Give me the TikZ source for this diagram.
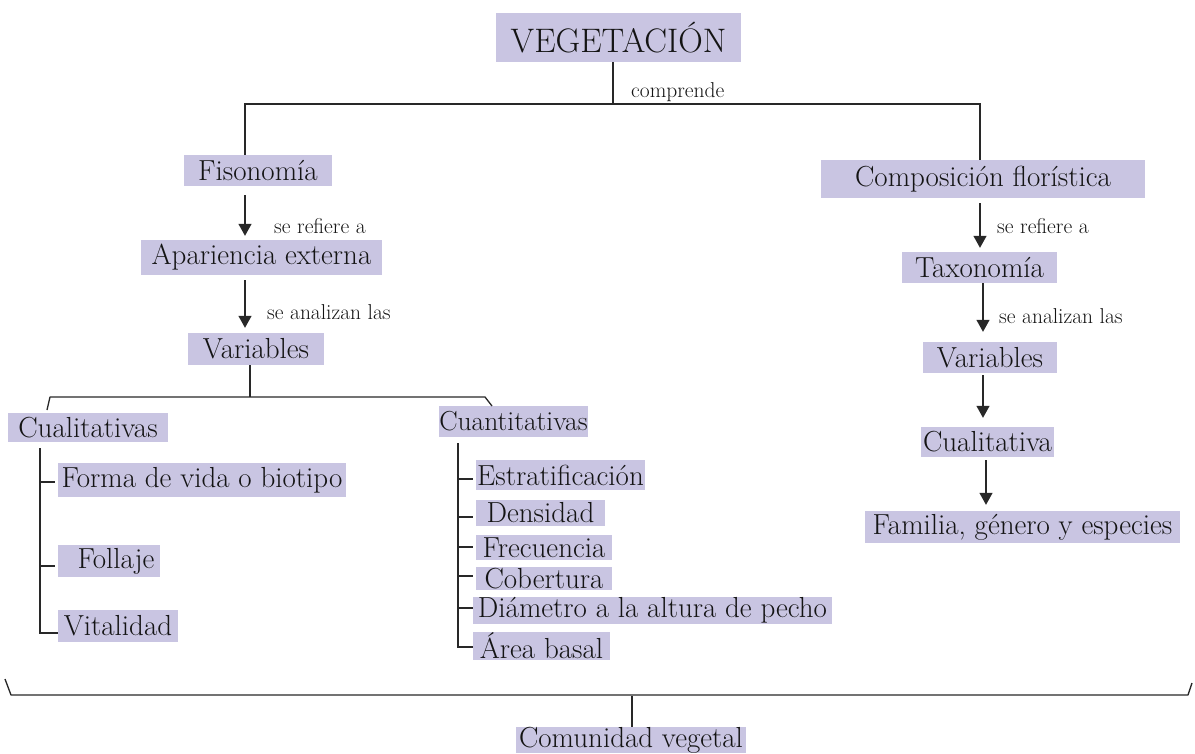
\documentclass[tikz,border=0pt]{standalone}
\usetikzlibrary{arrows.meta}
\definecolor{lav}{RGB}{201,197,226}
\definecolor{ink}{RGB}{20,20,20}
\definecolor{ln}{RGB}{40,40,40}
\begin{document}
\begin{tikzpicture}[x=1pt,y=-1pt,
  box/.style={fill=lav, inner sep=0pt, text=ink, font=\fontsize{29}{31}\selectfont},
  lbl/.style={inner sep=0pt, anchor=west, text=ink, font=\fontsize{21.5}{23}\selectfont},
  conn/.style={draw=ln, line width=1.3pt},
  arr/.style={conn, -{Triangle[width=13pt,length=12pt]}}]
\useasboundingbox (0,0) rectangle (1195,753);
\fill[white] (0,0) rectangle (1195,753);
% nodes
\node[box, minimum width=245pt, minimum height=49pt, font=\fontsize{34}{36}\selectfont] (veg) at (618.5,37.5) {VEGETACIÓN};
\node[box, minimum width=148pt, minimum height=31pt] (fis) at (258,170.5) {Fisonomía};
\node[box, minimum width=241pt, minimum height=35pt] (apa) at (261.5,257.5) {Apariencia externa};
\node[box, minimum width=136pt, minimum height=32pt] (var1) at (256,349) {Variables};
\node[box, minimum width=160pt, minimum height=29pt] (cual) at (88,427.5) {Cualitativas};
\node[box, minimum width=288pt, minimum height=34pt] (forma) at (202,480) {Forma de vida o biotipo};
\node[box, minimum width=102pt, minimum height=32pt] (foll) at (109,561) {\hspace*{14pt}Follaje};
\node[box, minimum width=120pt, minimum height=32pt] (vit) at (118,626) {Vitalidad};
\node[box, minimum width=149pt, minimum height=31pt, font=\fontsize{27.5}{29}\selectfont] (cuan) at (513.5,421.5) {Cuantitativas};
\node[box, minimum width=169pt, minimum height=30pt] (estr) at (560.5,475) {Estratificación};
\node[box, minimum width=129pt, minimum height=26pt] (dens) at (540.5,513) {Densidad};
\node[box, minimum width=136pt, minimum height=25pt] (frec) at (544,547.5) {Frecuencia};
\node[box, minimum width=136pt, minimum height=23pt] (cob) at (544,578.5) {Cobertura};
\node[box, minimum width=359pt, minimum height=27pt] (diam) at (652.5,610.5) {Diámetro a la altura de pecho};
\node[box, minimum width=137pt, minimum height=28pt] (area) at (541.5,646) {Área basal};
\node[box, minimum width=324pt, minimum height=38pt] (comp) at (983,179) {Composición florística};
\node[box, minimum width=155pt, minimum height=31pt] (tax) at (979.5,267.5) {Taxonomía};
\node[box, minimum width=134pt, minimum height=31pt] (var2) at (990,357.5) {Variables};
\node[box, minimum width=133pt, minimum height=30pt] (cual2) at (987.5,442) {Cualitativa};
\node[box, minimum width=315pt, minimum height=32pt] (fam) at (1022.5,527) {Familia, género y especies};
\node[box, minimum width=230pt, minimum height=26pt] (com) at (631,740) {Comunidad vegetal};
% labels
\node[lbl] (lcomp) at (631,92) {comprende};
\node[lbl] (l1) at (274,226) {se refiere a};
\node[lbl] (l2) at (267,312) {se analizan las};
\node[lbl] (l3) at (997,226) {se refiere a};
\node[lbl] (l4) at (999,316) {se analizan las};
% top split
\coordinate (jt) at (613,104);
\coordinate (jl) at (245,104);
\coordinate (jr) at (980,104);
\draw[conn] (veg.south -| jt) -- (jt);
\draw[conn] (fis.north -| jl) -- (jl) -- (jr) -- (comp.north -| jr);
% left chain
\coordinate (ax) at (245,0);
\draw[arr, shorten <=9pt, shorten >=4pt] (fis.south -| ax) -- (apa.north -| ax);
\draw[arr, shorten <=5pt, shorten >=5pt] (apa.south -| ax) -- (var1.north -| ax);
% variables split
\coordinate (vs) at (250,397);
\coordinate (vl) at (50,397);
\coordinate (vr) at (485,397);
\coordinate (vle) at (47,410);
\coordinate (vre) at (492,406);
\draw[conn] (var1.south -| vs) -- (vs);
\draw[conn, line join=round] (vle) -- (vl) -- (vr) -- (vre);
% cualitativas tree
\coordinate (ct) at (40,448);
\coordinate (cb) at (40,633);
\draw[conn] (ct) -- (cb) -- (cb -| forma.west);
\draw[conn] (40,482) -- (55,482);
\draw[conn] (40,566) -- (55,566);
% cuantitativas tree
\coordinate (qt) at (458,443);
\coordinate (qb) at (458,647);
\draw[conn] (qt) -- (qb) -- (473,647);
\foreach \yy in {479,517,547,576,608} {\draw[conn] (458,\yy) -- (473,\yy);}
% right chain
\draw[arr, shorten <=5pt, shorten >=4pt] (comp.south -| jr) -- (tax.north -| jr);
\coordinate (bx) at (983,0);
\draw[arr, shorten <=0pt, shorten >=10pt] (tax.south -| bx) -- (var2.north -| bx);
\draw[arr, shorten <=2pt, shorten >=9pt] (var2.south -| bx) -- (cual2.north -| bx);
\coordinate (cx) at (986,0);
\draw[arr, shorten <=3pt, shorten >=6pt] (cual2.south -| cx) -- (fam.north -| cx);
% bottom brace
\coordinate (bl) at (11,695);
\coordinate (br) at (1188,695);
\coordinate (ble) at (5,679);
\coordinate (bre) at (1192,683);
\coordinate (bm) at (632,696);
\draw[conn, line join=round] (ble) -- (bl) -- (br) -- (bre);
\draw[conn] (bm) -- (com.north -| bm);
\end{tikzpicture}
\end{document}
